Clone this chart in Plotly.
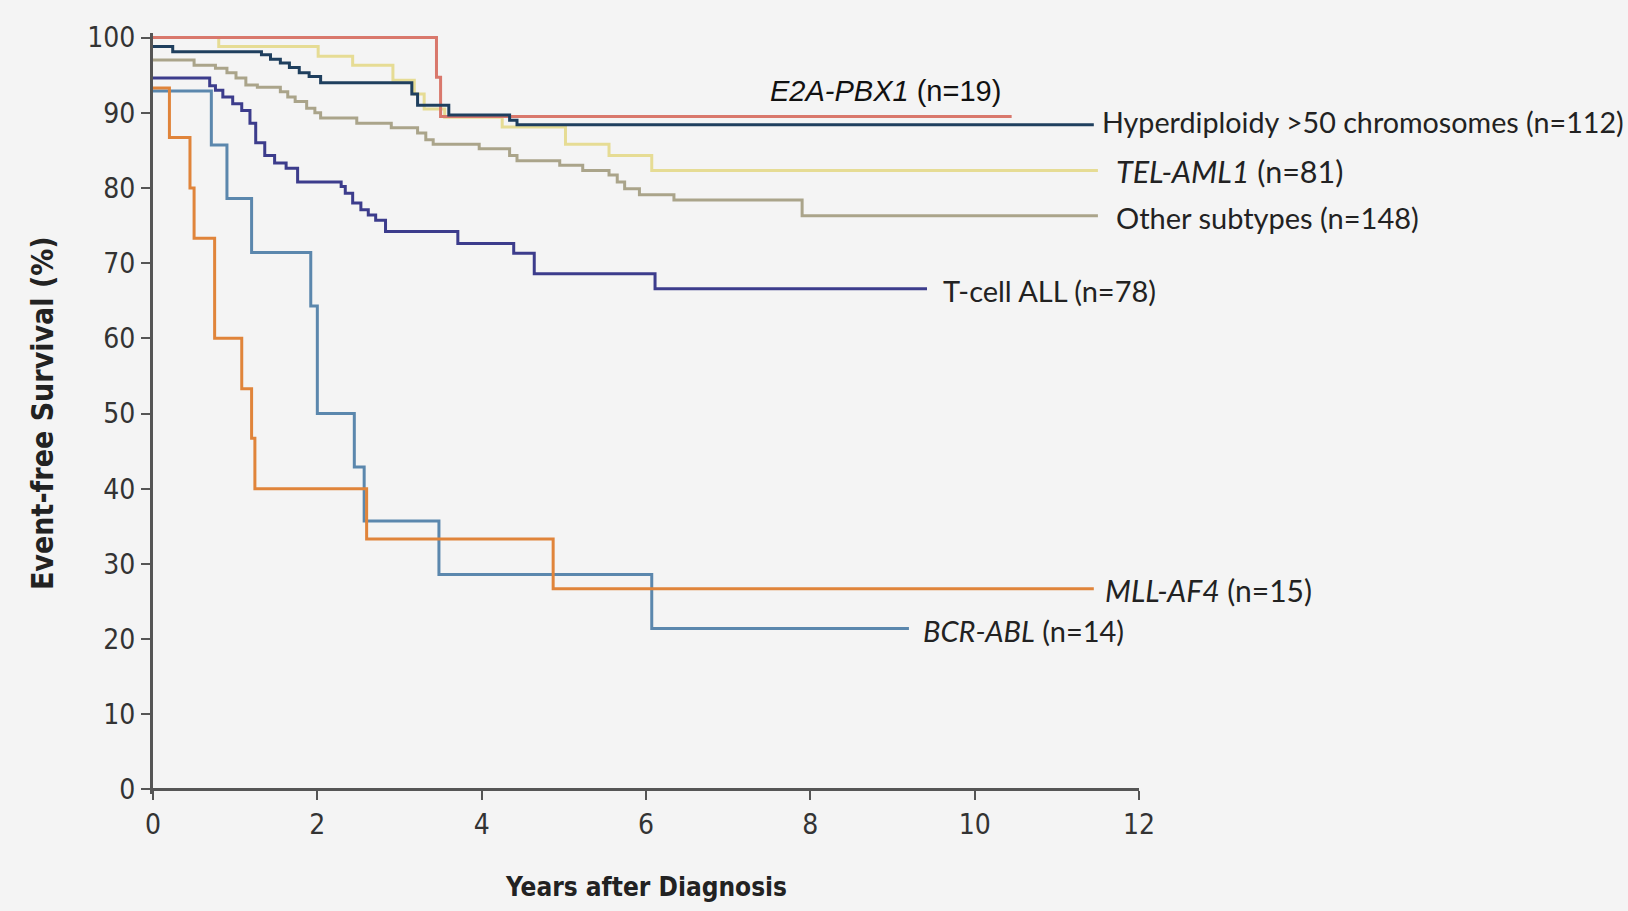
import plotly.graph_objects as go

# ---------------- data (years after diagnosis, event-free survival %) ----------------
hyper_t = [0, 0.24, 1.32, 1.43, 1.55, 1.66, 1.78, 1.90, 2.04, 3.15, 3.22, 3.60, 4.34, 4.43, 11.45]
hyper_s = [98.8, 98.1, 97.7, 97.1, 96.6, 96.0, 95.3, 94.8, 94.0, 92.5, 91.0, 89.7, 89.0, 88.4, 88.4]

e2a_t = [0, 3.45, 3.50, 10.45]
e2a_s = [100, 94.7, 89.5, 89.5]

tel_t = [0, 0.80, 2.01, 2.43, 2.92, 3.18, 3.30, 3.55, 4.25, 5.02, 5.55, 6.07, 11.5]
tel_s = [100, 98.8, 97.5, 96.3, 94.3, 92.5, 90.5, 89.4, 88.1, 85.8, 84.3, 82.3, 82.3]

other_t = [0, 0.50, 0.76, 0.90, 1.01, 1.13, 1.27, 1.55, 1.64, 1.73, 1.87, 1.97, 2.04,
           2.48, 2.90, 3.22, 3.32, 3.41, 3.97, 4.34, 4.43, 4.95, 5.23, 5.55, 5.65,
           5.74, 5.92, 6.34, 7.90, 11.5]
other_s = [97.0, 96.3, 95.9, 95.3, 94.6, 93.7, 93.4, 92.8, 92.1, 91.5, 90.6, 90.0, 89.3,
           88.6, 88.0, 87.3, 86.4, 85.8, 85.2, 84.3, 83.6, 83.0, 82.3, 81.7, 80.8,
           79.9, 79.1, 78.4, 76.3, 76.3]

tcell_t = [0, 0.69, 0.76, 0.85, 0.97, 1.08, 1.18, 1.25, 1.36, 1.48, 1.62, 1.76, 2.29,
           2.34, 2.43, 2.53, 2.62, 2.71, 2.83, 3.71, 4.39, 4.64, 6.11, 9.42]
tcell_s = [94.6, 93.6, 93.0, 92.1, 91.2, 90.3, 88.6, 86.0, 84.3, 83.3, 82.6, 80.8, 80.2,
           79.3, 78.0, 77.1, 76.4, 75.7, 74.2, 72.6, 71.3, 68.6, 66.6, 66.6]

mll_t = [0, 0.20, 0.45, 0.50, 0.75, 1.08, 1.20, 1.24, 2.60, 4.87, 11.45]
mll_s = [93.3, 86.7, 80.0, 73.3, 60.0, 53.3, 46.7, 40.0, 33.3, 26.7, 26.7]

bcr_t = [0, 0.71, 0.90, 1.20, 1.92, 2.00, 2.45, 2.57, 3.48, 6.07, 9.20]
bcr_s = [92.9, 85.7, 78.6, 71.4, 64.3, 50.0, 42.9, 35.7, 28.6, 21.4, 21.4]

x_ticks = [0, 2, 4, 6, 8, 10, 12]
y_ticks = [0, 10, 20, 30, 40, 50, 60, 70, 80, 90, 100]

series = [
    ("Other subtypes", other_t, other_s, "#aaa48a"),
    ("TEL-AML1", tel_t, tel_s, "#e6dc94"),
    ("E2A-PBX1", e2a_t, e2a_s, "#d9786c"),
    ("Hyperdiploidy", hyper_t, hyper_s, "#1f3f5e"),
    ("T-cell ALL", tcell_t, tcell_s, "#3c3c8c"),
    ("BCR-ABL", bcr_t, bcr_s, "#5b87ad"),
    ("MLL-AF4", mll_t, mll_s, "#e0843a"),
]

fig = go.Figure()
for name, t, s, c in series:
    fig.add_trace(go.Scatter(x=t, y=s, mode="lines", name=name,
                             line=dict(color=c, width=3, shape="hv"),
                             hoverinfo="skip", showlegend=False))

LAB = "Lato, 'Open Sans', sans-serif"
NAR = "'Liberation Sans Narrow', 'DejaVu Sans Condensed', Lato, sans-serif"


def lf(size):
    return dict(family=LAB, size=size, color="#222")


labels = [
    (7.49, 92.9, "<i>E2A-PBX1</i> (n=19)", dict(family="Liberation Sans, Arial", size=29, color="#111")),
    (11.53, 88.8, "Hyperdiploidy >50 chromosomes (n=112)", lf(28.7)),
    (11.70, 82.2, "<i>TEL-AML1</i> (n=81)", lf(30.5)),
    (11.69, 76.1, "Other subtypes (n=148)", lf(29)),
    (9.59, 66.3, "T-cell ALL (n=78)", lf(29)),
    (11.56, 26.5, "<i>MLL-AF4</i> (n=15)", lf(30)),
    (9.35, 21.2, "<i>BCR-ABL</i> (n=14)", lf(29)),
]
for x, y, txt, f in labels:
    fig.add_annotation(x=x, y=y, xref="x", yref="y", text=txt, showarrow=False,
                       xanchor="left", yanchor="middle", font=f)

# axis titles
fig.add_annotation(x=-0.112, y=0.5, xref="paper", yref="paper", text="<b>Event-free Survival (%)</b>",
                   textangle=-90, showarrow=False, xanchor="center", yanchor="middle",
                   font=dict(family=NAR, size=30, color="#222"))
fig.add_annotation(x=0.5, y=-0.1216, xref="paper", yref="paper", text="<b>Years after Diagnosis</b>",
                   showarrow=False, xanchor="center", yanchor="middle",
                   font=dict(family=NAR, size=26, color="#222"))

# y axis range slightly padded so lines at 100 are not clipped; x axis drawn at y=0
y_lo, y_hi = -0.6, 100.6
pos0 = (0 - y_lo) / (y_hi - y_lo)

fig.update_layout(
    width=1628, height=911,
    margin=dict(l=153, r=489, t=33, b=117),
    paper_bgcolor="#f4f4f4", plot_bgcolor="#f4f4f4",
    xaxis=dict(range=[0, 12], tickvals=x_ticks, ticks="outside", ticklen=9, tickwidth=2,
               tickcolor="#555", showline=True, linecolor="#555", linewidth=3,
               showgrid=False, zeroline=False, anchor="free", position=pos0,
               tickfont=dict(family=NAR, size=28, color="#333")),
    yaxis=dict(range=[y_lo, y_hi], tickvals=y_ticks, ticks="outside", ticklen=9, tickwidth=2,
               tickcolor="#555", showline=True, linecolor="#555", linewidth=3,
               showgrid=False, zeroline=False,
               tickfont=dict(family=NAR, size=28, color="#333")),
)

fig.write_html("out.html", config={"displayModeBar": False},
               post_script="document.body.style.margin='0';")
